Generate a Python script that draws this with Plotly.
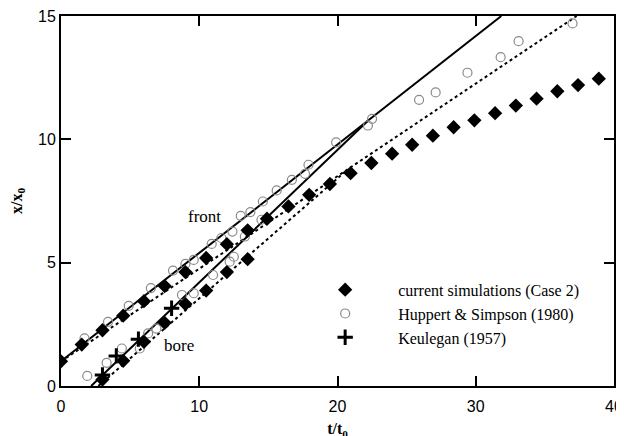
import plotly.graph_objects as go

# current simulations (Case 2) - front and bore
sim_front_t = [0, 1.5, 3.0, 4.5, 6.0, 7.5, 9.0, 10.5, 12.0, 13.5, 14.9, 16.45, 17.95, 19.45,
               20.95, 22.45, 23.95, 25.4, 26.9, 28.4, 29.9, 31.4, 32.9, 34.4, 35.9, 37.4, 38.9]
sim_front_x = [1.0, 1.68, 2.26, 2.85, 3.44, 4.05, 4.62, 5.19, 5.75, 6.31, 6.78, 7.28, 7.75, 8.19,
               8.63, 9.04, 9.42, 9.78, 10.15, 10.49, 10.77, 11.06, 11.37, 11.65, 11.95, 12.2, 12.46]
sim_bore_t = [3.0, 4.5, 6.0, 7.5, 9.0, 10.5, 12.0, 13.5]
sim_bore_x = [0.26, 1.02, 1.79, 2.56, 3.32, 3.87, 4.62, 5.14]

# Huppert & Simpson (1980)
hs_t = [1.7, 3.4, 4.9, 6.5, 8.1, 9.0, 9.6, 10.9, 11.6, 12.4, 13.0, 13.7, 14.6, 15.6, 16.7,
        17.9, 19.9, 22.5, 25.9, 27.1, 29.4, 31.8, 33.1, 37.0,
        1.9, 3.3, 4.4, 5.7, 6.3, 6.9, 8.75, 9.6, 11.0, 12.2, 12.5, 13.3, 14.5, 17.65, 22.2]
hs_x = [1.93, 2.6, 3.25, 3.97, 4.68, 4.95, 5.11, 5.76, 6.0, 6.26, 6.9, 7.05, 7.48, 7.93, 8.36,
        8.97, 9.88, 10.83, 11.6, 11.9, 12.7, 13.33, 13.98, 14.7,
        0.41, 0.94, 1.52, 1.52, 2.13, 2.33, 3.69, 3.76, 4.5, 5.04, 5.24, 6.06, 6.74, 8.6, 10.56]

# Keulegan (1957)
keu_t = [3.0, 4.0, 5.6, 8.0]
keu_x = [0.45, 1.22, 1.9, 3.15]

# fitted lines
front_solid_t = [0, 31.85]
front_solid_x = [1.0, 15.0]
bore_solid_t = [2.18, 22.2]
bore_solid_x = [0.0, 10.75]
front_dot_t = [0, 37.3]
front_dot_x = [1.0, 15.0]
bore_dot_t = [2.7, 20.7]
bore_dot_x = [0.0, 8.76]

serif = "Liberation Serif"
sans = "Liberation Sans"

fig = go.Figure()
for tt, xx in [(front_solid_t, front_solid_x), (bore_solid_t, bore_solid_x)]:
    fig.add_trace(go.Scatter(x=tt, y=xx, mode="lines", line=dict(color="black", width=2),
                             showlegend=False, hoverinfo="skip"))
for tt, xx in [(front_dot_t, front_dot_x), (bore_dot_t, bore_dot_x)]:
    fig.add_trace(go.Scatter(x=tt, y=xx, mode="lines", line=dict(color="black", width=2, dash="dot"),
                             showlegend=False, hoverinfo="skip"))

fig.add_trace(go.Scatter(x=hs_t, y=hs_x, mode="markers", name="Huppert &amp; Simpson (1980)",
                         marker=dict(symbol="circle-open", size=9, color="#8a8a8a", line=dict(width=1.2)),
                         legendrank=2))
fig.add_trace(go.Scatter(x=sim_front_t + sim_bore_t, y=sim_front_x + sim_bore_x, mode="markers",
                         name="current simulations (Case 2)",
                         marker=dict(symbol="diamond", size=11, color="black"), legendrank=1))
fig.add_trace(go.Scatter(x=keu_t, y=keu_x, mode="markers", name="Keulegan (1957)",
                         marker=dict(symbol="cross-thin", size=11, color="black", line=dict(width=3, color="black")),
                         legendrank=3))

fig.add_annotation(x=10.36, y=6.86, text="front", showarrow=False,
                   font=dict(family=serif, size=17, color="black"))
fig.add_annotation(x=8.56, y=1.65, text="bore", showarrow=False,
                   font=dict(family=serif, size=17, color="black"))

axis_common = dict(showline=True, linecolor="black", linewidth=2, mirror="ticks",
                   ticks="inside", ticklen=10, tickwidth=2, tickcolor="black",
                   showgrid=False, zeroline=False, automargin=False,
                   ticklabeloverflow="allow",
                   tickfont=dict(family=sans, size=16, color="black"))
fig.update_xaxes(range=[0, 40], tickvals=[0, 10, 20, 30, 40], ticklabelstandoff=5, **axis_common,
                 title=dict(text="<b>t/t<sub>0</sub></b>", font=dict(family=serif, size=16, color="black"),
                            standoff=9))
fig.update_yaxes(range=[0, 15], tickvals=[0, 5, 10, 15], **axis_common,
                 title=dict(text="<b>x/x<sub>0</sub></b>", font=dict(family=serif, size=16, color="black"),
                            standoff=14))

fig.update_layout(
    width=624, height=436,
    margin=dict(l=52.5, r=17.5, t=8, b=58.3),
    plot_bgcolor="white", paper_bgcolor="white",
    legend=dict(x=0.418, y=0.306, xanchor="left", yanchor="top", bgcolor="rgba(0,0,0,0)",
                font=dict(family=serif, size=16, color="black"), itemwidth=96,
                traceorder="normal"),
)

fig.write_html("out.html")
